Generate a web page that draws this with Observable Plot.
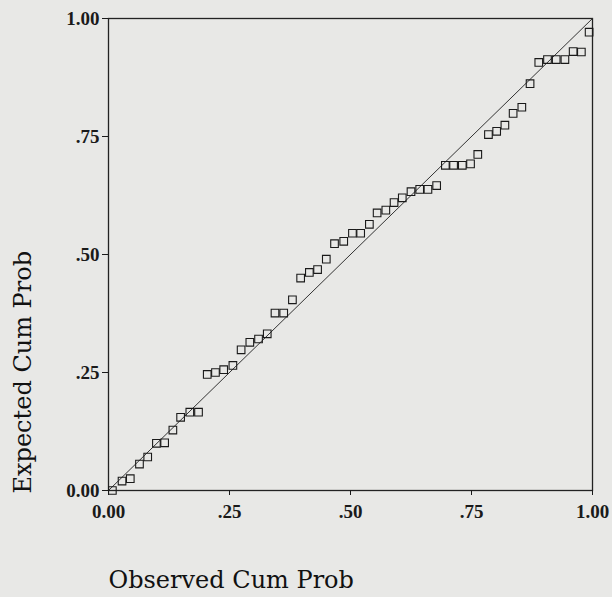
<!DOCTYPE html>
<html>
<head>
<meta charset="utf-8">
<script src="https://cdn.jsdelivr.net/npm/d3@7"></script>
<script src="https://cdn.jsdelivr.net/npm/@observablehq/plot@0.6"></script>
<style>
  html, body { margin: 0; padding: 0; background: #e8e8e6; }
  #chart svg { display: block; }
</style>
</head>
<body>
<div id="chart"></div>
<script>
// Observed cumulative probability
const observed = [0.008,0.028,0.045,0.064,0.081,0.099,0.116,0.133,0.149,0.168,0.186,0.204,0.221,0.238,0.257,
  0.274,0.292,0.310,0.328,0.344,0.362,0.380,0.397,0.415,0.432,0.450,0.467,0.486,0.504,0.521,
  0.539,0.555,0.573,0.590,0.607,0.625,0.643,0.660,0.678,0.696,0.713,0.731,0.748,0.763,
  0.785,0.802,0.819,0.836,0.854,0.871,0.889,0.907,0.925,0.943,0.960,0.977,0.993];
// Expected cumulative probability
const expected = [0.000,0.020,0.025,0.056,0.071,0.100,0.101,0.128,0.155,0.166,0.166,0.246,0.250,0.256,0.265,
  0.298,0.314,0.321,0.332,0.376,0.376,0.404,0.450,0.462,0.468,0.490,0.523,0.528,0.545,0.545,
  0.564,0.588,0.594,0.610,0.620,0.633,0.638,0.638,0.646,0.689,0.689,0.689,0.692,0.712,
  0.754,0.761,0.774,0.799,0.812,0.862,0.907,0.913,0.913,0.913,0.930,0.929,0.971];
// Reference diagonal endpoints
const diagX = [0, 1];
const diagY = [0, 1];
// Tick values and labels
const tickValues = [0, 0.25, 0.5, 0.75, 1];
const tickLabels = ["0.00", ".25", ".50", ".75", "1.00"];
// Axis titles
const xTitle = ["Observed Cum Prob"];
const yTitle = ["Expected Cum Prob"];

const points = observed.map((x, i) => ({x, y: expected[i]}));
const diag = diagX.map((x, i) => ({x, y: diagY[i]}));
const fmt = v => tickLabels[tickValues.indexOf(v)];
const titleFont = "'DejaVu Serif', serif";

const chart = Plot.plot({
  width: 612,
  height: 597,
  marginLeft: 108,
  marginRight: 20,
  marginTop: 18,
  marginBottom: 107,
  style: {background: "transparent", fontFamily: "'Liberation Serif', serif", color: "#1a1a1a"},
  x: {domain: [0, 1]},
  y: {domain: [0, 1]},
  marks: [
    Plot.frame({stroke: "#222", strokeWidth: 1.3}),
    Plot.axisX({ticks: tickValues, tickFormat: fmt, tickSize: 5, tickPadding: 9,
      fontSize: 19, fontWeight: "bold", label: null}),
    Plot.axisY({ticks: tickValues, tickFormat: fmt, tickSize: 6, tickPadding: 3,
      fontSize: 19, fontWeight: "bold", label: null}),
    Plot.line(diag, {x: "x", y: "y", stroke: "#333", strokeWidth: 1}),
    Plot.dot(points, {x: "x", y: "y", symbol: "square", r: 4.3, stroke: "#1a1a1a", strokeWidth: 1.1, fill: "none"}),
    Plot.text(xTitle, {text: d => d, frameAnchor: "bottom-left", textAnchor: "start", lineAnchor: "middle",
      dx: 0, dy: 90, fontSize: 24, fontFamily: titleFont, fill: "#111"}),
    Plot.text(yTitle, {text: d => d, frameAnchor: "bottom-left", textAnchor: "start", lineAnchor: "middle",
      rotate: -90, dx: -85, dy: 3, fontSize: 24, fontFamily: titleFont, fill: "#111"})
  ]
});
document.getElementById("chart").append(chart);
</script>
</body>
</html>
